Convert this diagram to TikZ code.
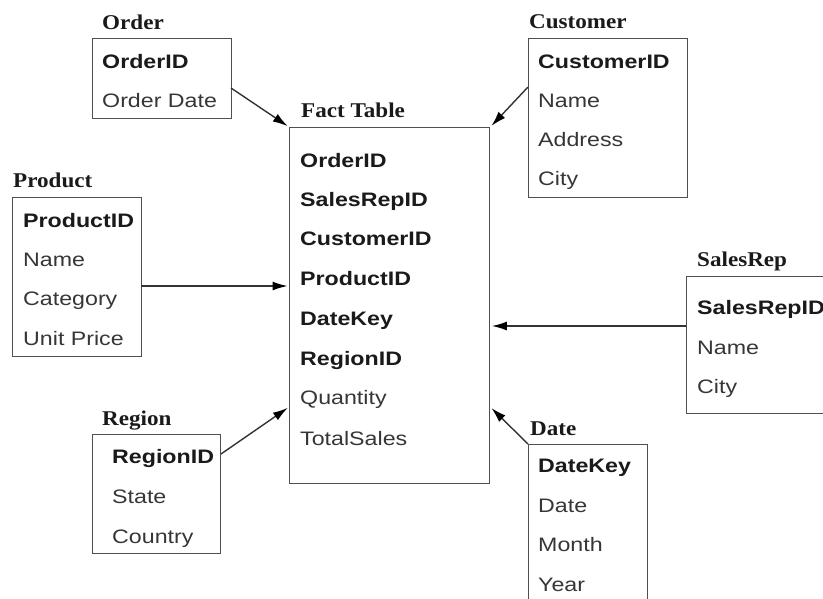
\documentclass[tikz,border=0pt]{standalone}
\usepackage{fontspec}
\setmainfont{Liberation Serif}
\newfontfamily\rowfont[FakeStretch=1.19]{Liberation Sans}
\newfontfamily\headfont[FakeStretch=1.1]{Liberation Serif}
\usetikzlibrary{arrows.meta}
\definecolor{boxline}{HTML}{505050}
\definecolor{wire}{HTML}{333333}
\definecolor{ink}{HTML}{1A1A1A}
\tikzset{
  tbl/.style={draw=boxline, line width=1.4pt, fill=white, anchor=north west, inner sep=0pt},
  head/.style={anchor=base west, inner sep=0pt, text=ink, font=\headfont\bfseries\fontsize{21}{24}\selectfont},
  keyrow/.style={anchor=base west, inner sep=0pt, text=ink, font=\rowfont\bfseries\fontsize{19.5}{22}\selectfont},
  attrow/.style={anchor=base west, inner sep=0pt, text=ink!88, font=\rowfont\fontsize{19.5}{22}\selectfont},
  conn/.style={draw=wire, line width=1.4pt, -{Latex[length=15pt,width=9pt,fill=black,color=black]}, shorten >=1.5pt}
}
\begin{document}
\begin{tikzpicture}[x=1pt,y=-1pt]
\useasboundingbox (0,0) rectangle (823,598);
\fill[white] (0,0) rectangle (823,598);
\clip (0,0) rectangle (823,598);

% ---- table frames
\node[tbl, minimum width=139pt, minimum height=80pt] (order) at (92,38) {};
\node[tbl, minimum width=200pt, minimum height=356pt] (fact) at (289,127) {};
\node[tbl, minimum width=129pt, minimum height=159pt] (product) at (12,197) {};
\node[tbl, minimum width=159pt, minimum height=159pt] (customer) at (528,38) {};
\node[tbl, minimum width=160pt, minimum height=137pt] (salesrep) at (686,276) {};
\node[tbl, minimum width=119pt, minimum height=170pt] (date) at (528,444) {};
\node[tbl, minimum width=128pt, minimum height=119pt] (region) at (92,434) {};

% ---- table titles
\node[head] (order-t) at (102,29) {Order};
\node[head] (fact-t) at (301,117) {Fact Table};
\node[head] (product-t) at (13,187) {Product};
\node[head] (customer-t) at (529,28) {Customer};
\node[head] (salesrep-t) at (697,266) {SalesRep};
\node[head] (date-t) at (530,435) {Date};
\node[head] (region-t) at (102,425) {Region};

% ---- Order
\node[keyrow] (order-1) at (102,68) {OrderID};
\node[attrow] (order-2) at (102,107) {Order Date};

% ---- Fact Table
\node[keyrow] (fact-1) at (300,167) {OrderID};
\node[keyrow] (fact-2) at (300,206) {SalesRepID};
\node[keyrow] (fact-3) at (300,245) {CustomerID};
\node[keyrow] (fact-4) at (300,285) {ProductID};
\node[keyrow] (fact-5) at (300,325) {DateKey};
\node[keyrow] (fact-6) at (300,365) {RegionID};
\node[attrow] (fact-7) at (300,404) {Quantity};
\node[attrow] (fact-8) at (300,445) {TotalSales};

% ---- Product
\node[keyrow] (product-1) at (23,227) {ProductID};
\node[attrow] (product-2) at (23,266) {Name};
\node[attrow] (product-3) at (23,305) {Category};
\node[attrow] (product-4) at (23,345) {Unit Price};

% ---- Customer
\node[keyrow] (customer-1) at (538,68) {CustomerID};
\node[attrow] (customer-2) at (538,107) {Name};
\node[attrow] (customer-3) at (538,146) {Address};
\node[attrow] (customer-4) at (538,185) {City};

% ---- SalesRep
\node[keyrow] (salesrep-1) at (697,314) {SalesRepID};
\node[attrow] (salesrep-2) at (697,354) {Name};
\node[attrow] (salesrep-3) at (697,393) {City};

% ---- Date
\node[keyrow] (date-1) at (538,472) {DateKey};
\node[attrow] (date-2) at (538,512) {Date};
\node[attrow] (date-3) at (538,551) {Month};
\node[attrow] (date-4) at (538,591) {Year};

% ---- Region
\node[keyrow] (region-1) at (112,463) {RegionID};
\node[attrow] (region-2) at (112,503) {State};
\node[attrow] (region-3) at (112,543) {Country};

% ---- connector anchors on the dimension frames
\coordinate (order-out) at (231,88);
\coordinate (customer-out) at (528,87);
\coordinate (product-out) at (141,286);
\coordinate (salesrep-out) at (686,326);
\coordinate (region-out) at (221,454);
\coordinate (date-out) at (528,444);

% ---- foreign-key connectors
\draw[conn] (order-out) -- (fact.north west);
\draw[conn] (customer-out) -- (fact.north east);
\draw[conn] (product-out) -- (fact.west |- product-out);
\draw[conn] (salesrep-out) -- (fact.east |- salesrep-out);
\draw[conn] (region-out) -- (fact.west |- 0,407);
\draw[conn] (date-out) -- (fact.east |- 0,407);
\end{tikzpicture}
\end{document}
